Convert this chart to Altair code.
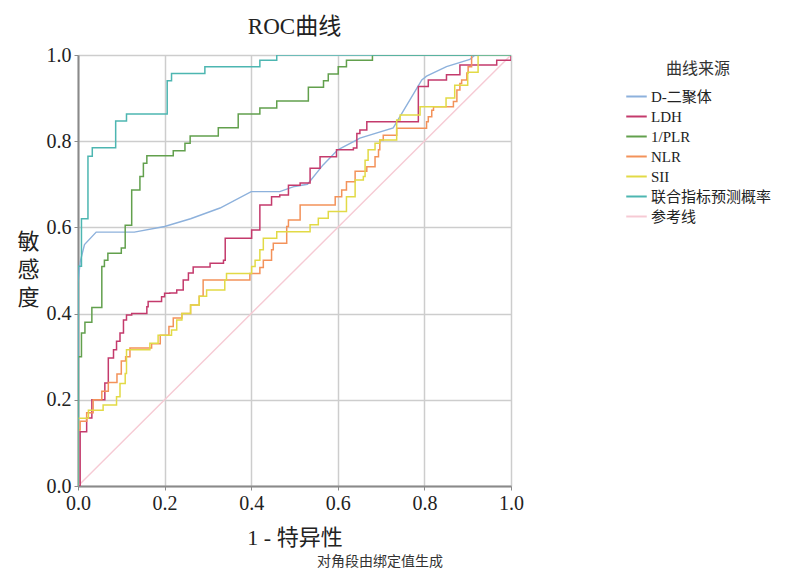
import altair as alt
import pandas as pd

# ---------------- data ----------------
series_names = ["D-二聚体", "LDH", "1/PLR", "NLR", "SII", "联合指标预测概率", "参考线"]
series_colors = ["#8db1dc", "#c43a6c", "#62a04d", "#f3925a", "#e2da46", "#4db6b1", "#f6cad4"]

ddimer_fpr = [0, 0, 0.005, 0.015, 0.042, 0.13, 0.2, 0.26, 0.328, 0.4, 0.466, 0.5, 0.53,
              0.566, 0.6, 0.644, 0.651, 0.728, 0.75, 0.794, 0.805, 0.851, 0.905, 0.917, 1.0]
ddimer_tpr = [0, 0.47, 0.52, 0.56, 0.589, 0.589, 0.602, 0.62, 0.645, 0.683, 0.683, 0.695, 0.70,
              0.745, 0.78, 0.803, 0.807, 0.831, 0.868, 0.942, 0.951, 0.973, 0.99, 1.0, 1.0]

ldh_fpr = [0, 0.005, 0.005, 0.02, 0.032, 0.058, 0.062, 0.07, 0.082, 0.089, 0.097, 0.105, 0.112,
           0.124, 0.159, 0.162, 0.193, 0.2, 0.212, 0.228, 0.243, 0.255, 0.266, 0.305, 0.336,
           0.34, 0.382, 0.401, 0.42, 0.447, 0.466, 0.486, 0.513, 0.536, 0.559, 0.597, 0.636,
           0.644, 0.651, 0.667, 0.786, 0.809, 0.851, 0.882, 0.967, 1.0]
ldh_tpr = [0, 0.077, 0.126, 0.158, 0.2, 0.2, 0.239, 0.297, 0.316, 0.336, 0.355, 0.385, 0.397,
           0.4, 0.416, 0.428, 0.439, 0.447, 0.448, 0.455, 0.478, 0.494, 0.508, 0.517, 0.524,
           0.575, 0.575, 0.594, 0.652, 0.671, 0.675, 0.698, 0.703, 0.737, 0.764, 0.78, 0.784,
           0.818, 0.826, 0.845, 0.927, 0.942, 0.954, 0.977, 0.988, 1.0]

plr_fpr = [0, 0, 0.008, 0.016, 0.032, 0.055, 0.061, 0.069, 0.1, 0.109, 0.124, 0.143, 0.151,
           0.159, 0.22, 0.247, 0.259, 0.324, 0.37, 0.42, 0.459, 0.532, 0.567, 0.578, 0.601,
           0.62, 0.68, 1.0]
plr_tpr = [0, 0.30, 0.355, 0.38, 0.414, 0.509, 0.524, 0.54, 0.552, 0.605, 0.687, 0.718, 0.749,
           0.766, 0.778, 0.795, 0.812, 0.831, 0.863, 0.877, 0.893, 0.925, 0.94, 0.956, 0.973,
           0.988, 1.0, 1.0]

nlr_fpr = [0, 0, 0.005, 0.02, 0.035, 0.055, 0.07, 0.09, 0.1, 0.11, 0.12, 0.17, 0.19, 0.21,
           0.22, 0.24, 0.26, 0.28, 0.289, 0.397, 0.42, 0.428, 0.447, 0.451, 0.482, 0.486,
           0.513, 0.594, 0.609, 0.62, 0.64, 0.667, 0.686, 0.694, 0.697, 0.705, 0.736, 0.805,
           0.809, 0.817, 0.821, 0.867, 0.875, 0.882, 0.886, 0.898, 0.901, 0.909, 1.0]
nlr_tpr = [0, 0.13, 0.15, 0.17, 0.2, 0.22, 0.24, 0.26, 0.29, 0.30, 0.32, 0.33, 0.35, 0.37,
           0.39, 0.40, 0.42, 0.44, 0.478, 0.493, 0.507, 0.524, 0.548, 0.563, 0.602, 0.617,
           0.652, 0.671, 0.687, 0.706, 0.73, 0.741, 0.764, 0.78, 0.803, 0.814, 0.83, 0.845,
           0.857, 0.872, 0.88, 0.892, 0.919, 0.934, 0.942, 0.958, 0.973, 1.0, 1.0]

sii_fpr = [0, 0, 0.024, 0.058, 0.089, 0.097, 0.109, 0.112, 0.166, 0.185, 0.216, 0.228, 0.24,
           0.26, 0.28, 0.297, 0.339, 0.343, 0.401, 0.409, 0.42, 0.428, 0.459, 0.536, 0.555,
           0.578, 0.62, 0.64, 0.659, 0.663, 0.67, 0.686, 0.697, 0.736, 0.744, 0.79, 0.85,
           0.87, 0.9, 0.924, 1.0]
sii_tpr = [0, 0.157, 0.176, 0.188, 0.207, 0.238, 0.261, 0.316, 0.331, 0.35, 0.362, 0.385, 0.40,
           0.42, 0.44, 0.455, 0.478, 0.493, 0.509, 0.524, 0.548, 0.575, 0.59, 0.606, 0.621,
           0.637, 0.671, 0.71, 0.718, 0.756, 0.78, 0.795, 0.803, 0.849, 0.861, 0.88, 0.9,
           0.93, 0.96, 1.0, 1.0]

combo_fpr = [0, 0, 0.008, 0.023, 0.033, 0.087, 0.112, 0.206, 0.216, 0.293, 0.42, 0.459, 1.0]
combo_tpr = [0, 0.51, 0.62, 0.765, 0.785, 0.847, 0.863, 0.94, 0.957, 0.973, 0.988, 1.0, 1.0]

ref_fpr = [0, 1]
ref_tpr = [0, 1]

axis_ticks = [0, 0.2, 0.4, 0.6, 0.8, 1.0]
title_text = "ROC曲线"
x_title = "1 - 特异性"
y_title = ["敏", "感", "度"]
legend_title = "曲线来源"
footnote = "对角段由绑定值生成"

# ---------------- build tables ----------------
def rows(name, xs, ys):
    return [{"series": name, "fpr": a, "tpr": b, "ord": i} for i, (a, b) in enumerate(zip(xs, ys))]

step_df = pd.DataFrame(
    rows("LDH", ldh_fpr, ldh_tpr) + rows("1/PLR", plr_fpr, plr_tpr)
    + rows("NLR", nlr_fpr, nlr_tpr) + rows("SII", sii_fpr, sii_tpr)
    + rows("联合指标预测概率", combo_fpr, combo_tpr)
)
lin_df = pd.DataFrame(rows("参考线", ref_fpr, ref_tpr) + rows("D-二聚体", ddimer_fpr, ddimer_tpr))

FONT = "Liberation Serif, Times New Roman, Noto Sans CJK SC"

color = alt.Color(
    "series:N",
    scale=alt.Scale(domain=series_names, range=series_colors),
    legend=alt.Legend(
        title=legend_title, orient="none", legendX=547, legendY=6,
        symbolType="stroke", symbolStrokeWidth=2, symbolSize=420,
        titleFont=FONT, titleFontSize=16, titleFontWeight="normal", titleColor="#333",
        titleAnchor="middle", titlePadding=8,
        labelFont=FONT, labelFontSize=15, labelColor="#222", rowPadding=0, labelOffset=3,
    ),
)

xenc = alt.X("fpr:Q", scale=alt.Scale(domain=[0, 1], nice=False), title=x_title,
             axis=alt.Axis(values=axis_ticks, format=".1f", titlePadding=14, labelFlush=False))
yenc = alt.Y("tpr:Q", scale=alt.Scale(domain=[0, 1], nice=False), title=y_title,
             axis=alt.Axis(values=axis_ticks, format=".1f", titleAngle=0, titleX=-50,
                           titleY=176, titleAlign="center", titleBaseline="top",
                           titleLineHeight=28, labelFlush=False))

lin = alt.Chart(lin_df).mark_line(strokeWidth=1.4, clip=True).encode(
    x=xenc, y=yenc, color=color, order="ord:Q", detail="series:N"
)
step = alt.Chart(step_df).mark_line(strokeWidth=1.5, interpolate="step-after", clip=True).encode(
    x=xenc, y=yenc, color=color, order="ord:Q", detail="series:N"
)
note = alt.Chart(pd.DataFrame({"t": [footnote]})).mark_text(
    font=FONT, fontSize=14, color="#333", baseline="middle", align="center"
).encode(x=alt.value(302), y=alt.value(507), text="t:N")

chart = (
    alt.layer(lin, step, note)
    .properties(
        width=433, height=431,
        title=alt.TitleParams(title_text, font=FONT, fontSize=23, fontWeight="normal",
                              color="#222", offset=6, anchor="middle"),
        autosize=alt.AutoSizeParams(type="none"),
        padding={"left": 70, "top": 47, "right": 266, "bottom": 85},
    )
    .configure_view(stroke=None)
    .configure_axis(
        grid=True, gridColor="#cdcdcd", gridWidth=1.5,
        domainColor="#8a8a8a", domainWidth=2,
        tickColor="#8a8a8a", tickSize=4, labelPadding=3,
        labelFont=FONT, labelFontSize=20, labelColor="#222",
        titleFont=FONT, titleFontSize=22, titleFontWeight="normal", titleColor="#222",
    )
)

chart.save("out.html", embed_options={"renderer": "svg", "actions": False})
